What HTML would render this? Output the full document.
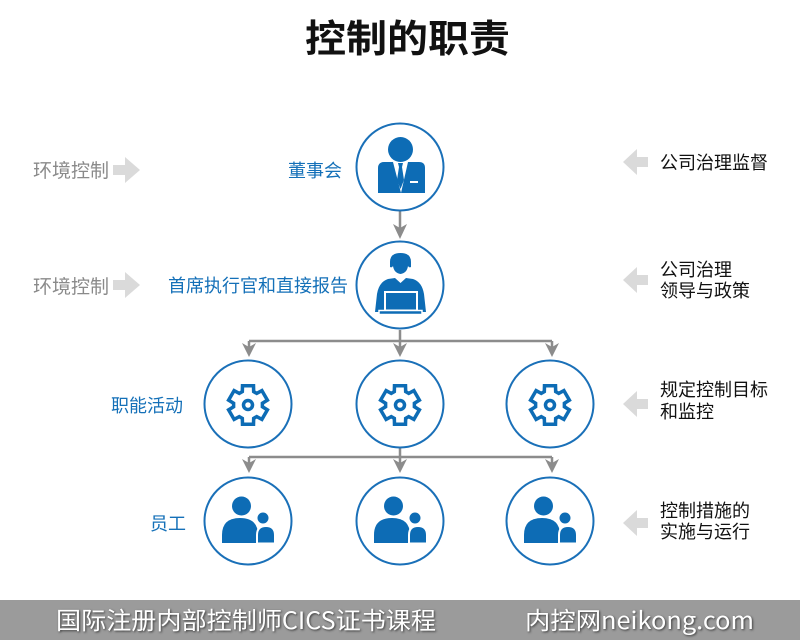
<!DOCTYPE html>
<html>
<head>
<meta charset="utf-8">
<style>
  html, body { margin: 0; padding: 0; background: #fff; }
  svg { display: block; }
  text { font-family: "Liberation Sans", "Noto Sans CJK SC", sans-serif; }
  .ft { font-family: "Noto Sans CJK SC", "Liberation Sans", sans-serif; }
</style>
</head>
<body>
<svg width="800" height="640" viewBox="0 0 800 640" xmlns="http://www.w3.org/2000/svg">
  <defs>
    <filter id="sh" x="-10%" y="-50%" width="120%" height="200%">
      <feGaussianBlur stdDeviation="1"/>
    </filter>
  </defs>
  <rect x="0" y="0" width="800" height="640" fill="#ffffff"/>

  <!-- Title -->
  <text x="305" y="52" font-size="38" font-weight="bold" fill="#111" textLength="205" lengthAdjust="spacingAndGlyphs">控制的职责</text>

  <!-- Connectors -->
  <g stroke="#8c8c8c" stroke-width="2.5" fill="none">
    <path d="M400,211 V230"/>
    <path d="M400,330 V341 M249,341 H552 M249,341 V350 M400,341 V350 M552,341 V350"/>
    <path d="M400,448 V457 M249,457 H552 M249,457 V466 M400,457 V466 M552,457 V466"/>
  </g>
  <g fill="#8c8c8c">
    <polygon points="393,224 400,228 407,224 400,239"/>
    <polygon points="242,343 249,347 256,343 249,357"/>
    <polygon points="393,343 400,347 407,343 400,357"/>
    <polygon points="545,343 552,347 559,343 552,357"/>
    <polygon points="242,459 249,463 256,459 249,473"/>
    <polygon points="393,459 400,463 407,459 400,473"/>
    <polygon points="545,459 552,463 559,459 552,473"/>
  </g>

  <!-- Circles -->
  <g fill="#fff" stroke="#1a70b8" stroke-width="2">
    <circle cx="400" cy="167" r="43.5"/>
    <circle cx="400" cy="285" r="43.5"/>
    <circle cx="248" cy="404" r="43.5"/>
    <circle cx="400" cy="404" r="43.5"/>
    <circle cx="550" cy="404" r="43.5"/>
    <circle cx="248" cy="521" r="43.5"/>
    <circle cx="400" cy="521" r="43.5"/>
    <circle cx="550" cy="521" r="43.5"/>
  </g>

  <!-- Businessman icon -->
  <g fill="#0d6cb5">
    <circle cx="400.5" cy="149.5" r="12.5"/>
    <path d="M378,193 L378,168 Q378,162 384,162 L419,162 Q425,162 425,168 L425,193 Z"/>
    <polygon points="393,162 408,162 401,193" fill="#fff"/>
    <polygon points="398,163 403,163 402,167 404,180 400.5,189 397,180 399,167"/>
    <rect x="410" y="181" width="8" height="2" fill="#fff"/>
  </g>

  <!-- Worker with laptop icon -->
  <g fill="#0d6cb5">
    <path d="M390,262 Q390,253 400.5,253 Q411,253 411,262 L411,267 Q409,268 408,266 Q407,273 400.5,274 Q394,273 393,266 Q392,268 390,267 Z"/>
    <path d="M375,312 L377,294 Q379,282 388,279 L395,278 L400.5,283 L406,278 L413,279 Q422,282 424,294 L426,312 Z"/>
    <rect x="385" y="292" width="32" height="18.5" stroke="#fff" stroke-width="2"/>
    <rect x="379" y="310.5" width="43" height="4" stroke="#fff" stroke-width="1.5"/>
  </g>

  <!-- Gears -->
  <g fill="none" stroke="#0d6cb5" stroke-width="3.5" stroke-linejoin="miter">
    <g transform="translate(248,405)">
      <path d="M-5.67,-13.35 L-5.51,-19.23 L5.51,-19.23 L5.67,-13.35 L8.73,-11.58 L13.89,-14.39 L19.41,-4.84 L14.39,-1.77 L14.39,1.77 L19.41,4.84 L13.89,14.39 L8.73,11.58 L5.67,13.35 L5.51,19.23 L-5.51,19.23 L-5.67,13.35 L-8.73,11.58 L-13.89,14.39 L-19.41,4.84 L-14.39,1.77 L-14.39,-1.77 L-19.41,-4.84 L-13.89,-14.39 L-8.73,-11.58 Z"/>
      <circle cx="0" cy="0" r="4.5"/>
    </g>
    <g transform="translate(400,405)">
      <path d="M-5.67,-13.35 L-5.51,-19.23 L5.51,-19.23 L5.67,-13.35 L8.73,-11.58 L13.89,-14.39 L19.41,-4.84 L14.39,-1.77 L14.39,1.77 L19.41,4.84 L13.89,14.39 L8.73,11.58 L5.67,13.35 L5.51,19.23 L-5.51,19.23 L-5.67,13.35 L-8.73,11.58 L-13.89,14.39 L-19.41,4.84 L-14.39,1.77 L-14.39,-1.77 L-19.41,-4.84 L-13.89,-14.39 L-8.73,-11.58 Z"/>
      <circle cx="0" cy="0" r="4.5"/>
    </g>
    <g transform="translate(550,405)">
      <path d="M-5.67,-13.35 L-5.51,-19.23 L5.51,-19.23 L5.67,-13.35 L8.73,-11.58 L13.89,-14.39 L19.41,-4.84 L14.39,-1.77 L14.39,1.77 L19.41,4.84 L13.89,14.39 L8.73,11.58 L5.67,13.35 L5.51,19.23 L-5.51,19.23 L-5.67,13.35 L-8.73,11.58 L-13.89,14.39 L-19.41,4.84 L-14.39,1.77 L-14.39,-1.77 L-19.41,-4.84 L-13.89,-14.39 L-8.73,-11.58 Z"/>
      <circle cx="0" cy="0" r="4.5"/>
    </g>
  </g>

  <!-- People icons -->
  <g fill="#0d6cb5">
    <g transform="translate(248,521)">
      <circle cx="-6.5" cy="-15" r="9.5"/>
      <path d="M-26,22 L-26,14 Q-26,-3 -8,-3 Q10,-3 10,14 L10,22 Z"/>
      <path d="M9,22.5 L9,14 Q9,5 18,5 Q27,5 27,14 L27,22.5 Z" stroke="#fff" stroke-width="2"/>
      <circle cx="15" cy="-3" r="6.5" stroke="#fff" stroke-width="2"/>
    </g>
    <g transform="translate(400,521)">
      <circle cx="-6.5" cy="-15" r="9.5"/>
      <path d="M-26,22 L-26,14 Q-26,-3 -8,-3 Q10,-3 10,14 L10,22 Z"/>
      <path d="M9,22.5 L9,14 Q9,5 18,5 Q27,5 27,14 L27,22.5 Z" stroke="#fff" stroke-width="2"/>
      <circle cx="15" cy="-3" r="6.5" stroke="#fff" stroke-width="2"/>
    </g>
    <g transform="translate(550,521)">
      <circle cx="-6.5" cy="-15" r="9.5"/>
      <path d="M-26,22 L-26,14 Q-26,-3 -8,-3 Q10,-3 10,14 L10,22 Z"/>
      <path d="M9,22.5 L9,14 Q9,5 18,5 Q27,5 27,14 L27,22.5 Z" stroke="#fff" stroke-width="2"/>
      <circle cx="15" cy="-3" r="6.5" stroke="#fff" stroke-width="2"/>
    </g>
  </g>

  <!-- Left gray labels and arrows -->
  <g font-size="19" fill="#8a8a8a">
    <text x="33" y="177">环境控制</text>
    <text x="33" y="293">环境控制</text>
  </g>
  <g fill="#dadada">
    <rect x="113" y="165" width="13" height="10"/>
    <polygon points="125,157 140,170 125,183"/>
    <rect x="113" y="280" width="13" height="10"/>
    <polygon points="125,272 140,285 125,298"/>
  </g>

  <!-- Blue labels -->
  <g font-size="18" fill="#1470b8" text-anchor="end">
    <text x="342" y="177">董事会</text>
    <text x="348" y="292">首席执行官和直接报告</text>
    <text x="183" y="412">职能活动</text>
    <text x="186" y="530">员工</text>
  </g>

  <!-- Right arrows -->
  <g fill="#dadada">
    <polygon points="623,162 637,149 637,175"/>
    <rect x="636" y="157" width="12" height="10"/>
    <polygon points="623,280 637,267 637,293"/>
    <rect x="636" y="275" width="12" height="10"/>
    <polygon points="623,404 637,391 637,417"/>
    <rect x="636" y="399" width="12" height="10"/>
    <polygon points="623,523 637,510 637,536"/>
    <rect x="636" y="518" width="12" height="10"/>
  </g>

  <!-- Right labels -->
  <g font-size="18" fill="#111">
    <text x="660" y="169">公司治理监督</text>
    <text x="660" y="276">公司治理</text>
    <text x="660" y="297">领导与政策</text>
    <text x="660" y="396">规定控制目标</text>
    <text x="660" y="418">和监控</text>
    <text x="660" y="517">控制措施的</text>
    <text x="660" y="538">实施与运行</text>
  </g>

  <!-- Footer -->
  <rect x="0" y="600" width="800" height="40" fill="#9b9b9b"/>
  <g class="ft" font-size="24" fill="#3a3a3a" filter="url(#sh)">
    <text class="ft" x="57" y="630" textLength="380" lengthAdjust="spacingAndGlyphs">国际注册内部控制师CICS证书课程</text>
    <text class="ft" x="526" y="630" textLength="229" lengthAdjust="spacingAndGlyphs">内控网neikong.com</text>
  </g>
  <g class="ft" font-size="24" fill="#ffffff">
    <text class="ft" x="56" y="629" textLength="380" lengthAdjust="spacingAndGlyphs">国际注册内部控制师CICS证书课程</text>
    <text class="ft" x="525" y="629" textLength="229" lengthAdjust="spacingAndGlyphs">内控网neikong.com</text>
  </g>
</svg>
</body>
</html>
